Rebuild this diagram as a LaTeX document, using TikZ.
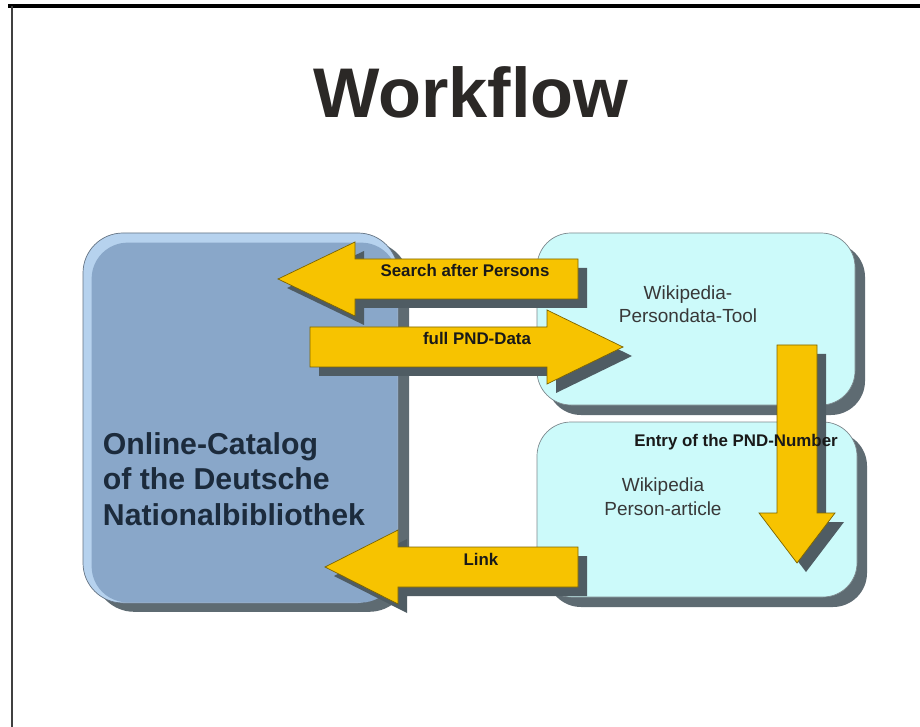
\documentclass[tikz,border=0pt]{standalone}
\usepackage{fontspec}
\setmainfont{Liberation Sans}
\usetikzlibrary{fit,shadows}

\definecolor{catblue}{HTML}{89A7C9}
\definecolor{catrim}{HTML}{B6D2EE}
\definecolor{wikicyan}{HTML}{CCFAFA}
\definecolor{boxshade}{HTML}{5E6B72}
\definecolor{arrowyellow}{HTML}{F7C300}
\definecolor{arrowline}{HTML}{7D6500}
\definecolor{arrowshade}{HTML}{4F5C63}
\definecolor{catink}{HTML}{1C2B3C}
\definecolor{wikiink}{HTML}{383838}

\tikzset{
  catbox/.style={draw=catrim!55!black, fill=catrim, rounded corners=1cm,
    inner sep=0pt, line width=0.5pt,
    drop shadow={shadow xshift=0.28cm, shadow yshift=-0.22cm, fill=boxshade, opacity=1}},
  wikibox/.style={draw=boxshade!80, fill=wikicyan, rounded corners=0.85cm,
    inner sep=0pt, line width=0.5pt,
    drop shadow={shadow xshift=0.25cm, shadow yshift=-0.25cm, fill=boxshade, opacity=1}},
  arrowbody/.style={fill=arrowyellow, draw=arrowline, line width=0.5pt},
  arrowshadow/.style={fill=arrowshade},
  arrowlabel/.style={font=\bfseries\fontsize{12}{14}\selectfont, text=black!90, anchor=base},
  wikitext/.style={font=\fontsize{13.5}{16.5}\selectfont, text=wikiink, align=center, anchor=base},
}

% block arrows: tail, head base, tip, centre line
\newcommand{\harrow}[4]{%
  \foreach \sh/\sty in {9/arrowshadow,0/arrowbody}
    \path[\sty] ({#1+\sh},{#4-20+\sh}) -- ({#2+\sh},{#4-20+\sh}) -- ({#2+\sh},{#4-37+\sh})
      -- ({#3+\sh},{#4+\sh}) -- ({#2+\sh},{#4+37+\sh}) -- ({#2+\sh},{#4+20+\sh})
      -- ({#1+\sh},{#4+20+\sh}) -- cycle;
}
\newcommand{\varrow}[4]{%
  \foreach \sh/\sty in {9/arrowshadow,0/arrowbody}
    \path[\sty] ({#4-20+\sh},{#1+\sh}) -- ({#4-20+\sh},{#2+\sh}) -- ({#4-38+\sh},{#2+\sh})
      -- ({#4+\sh},{#3+\sh}) -- ({#4+38+\sh},{#2+\sh}) -- ({#4+20+\sh},{#2+\sh})
      -- ({#4+20+\sh},{#1+\sh}) -- cycle;
}

\begin{document}
\begin{tikzpicture}[x=0.025cm,y=-0.025cm]
  \useasboundingbox (0,0) rectangle (920,727);
  \fill[white] (0,0) rectangle (920,727);
  % frame
  \draw[line width=2.2pt] (8,6) -- (920,6);
  \draw[line width=1.6pt, black!75] (12,6) -- (12,727);

  \node[font=\bfseries\fontsize{50}{56}\selectfont, text=black!92!olive, anchor=base]
    (title) at (471,118) {Workflow};

  % boxes
  \node[catbox, fit={(83,233) (398,603)}] (catalog) {};
  \fill[catblue, rounded corners=0.9cm] ([shift={(9,10)}]catalog.north west)
    rectangle ([shift={(-1,-1)}]catalog.south east);
  \node[wikibox, fit={(537,233) (855,405)}] (tool) {};
  \node[wikibox, fit={(537,422) (857,597)}] (article) {};

  % base = last line
  \node[font=\bfseries\fontsize{21.5}{25}\selectfont, text=catink, align=left, anchor=base west]
    (cattext) at (98,525) {Online-Catalog\\of the Deutsche\\Nationalbibliothek};
  \node[wikitext] (tooltext) at (688,323) {Wikipedia-\\Persondata-Tool};
  \node[wikitext] (articletext) at (663,515) {Wikipedia\\Person-article};

  % arrows
  \harrow{578}{355}{278}{279}
  \harrow{310}{547}{623}{347}
  \varrow{345}{513}{563}{797}
  \harrow{578}{398}{325}{567}

  \node[arrowlabel] (search) at (465,277) {Search after Persons};
  \node[arrowlabel] (full) at (477,345) {full PND-Data};
  \node[arrowlabel] (entry) at (736,446) {Entry of the PND-Number};
  \node[arrowlabel] (link) at (481,565) {Link};
\end{tikzpicture}
\end{document}
